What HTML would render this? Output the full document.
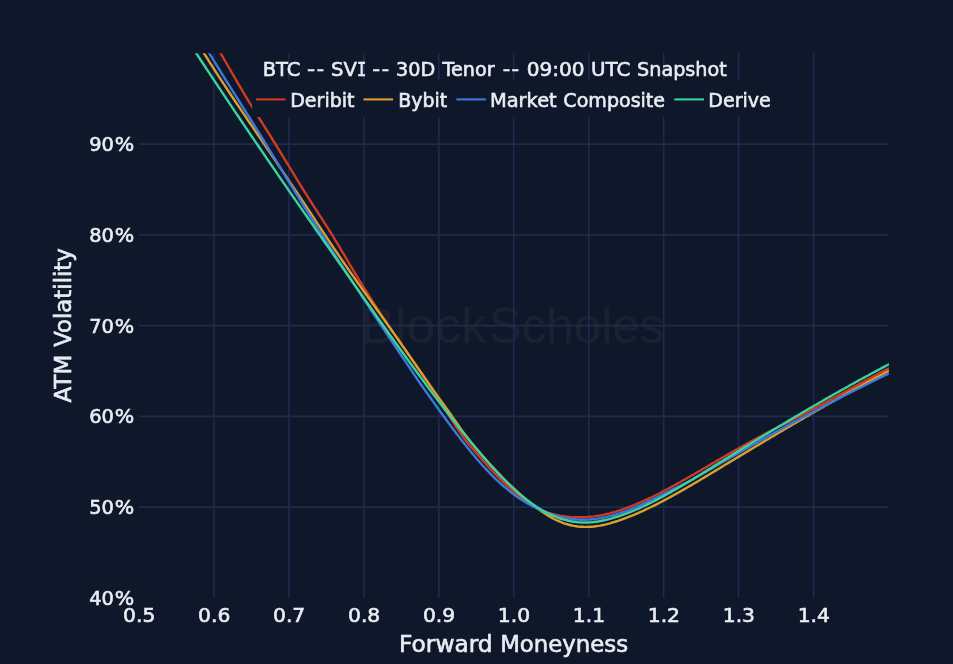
<!DOCTYPE html>
<html lang="en"><head><meta charset="utf-8"><title>BTC -- SVI -- 30D Tenor -- 09:00 UTC Snapshot</title>
<style>
html,body{margin:0;padding:0;background:#0e182a;}
body{width:953px;height:664px;overflow:hidden;}
svg{display:block;filter:blur(0.6px);}
</style></head><body>
<svg width="953" height="664" viewBox="0 0 953 664"><defs><clipPath id="plotclip"><rect x="139.0" y="53.35" width="749.9" height="544.5"/></clipPath></defs><rect width="953" height="664" fill="#0e182a"/><text y="343.4" font-family="'Liberation Sans', sans-serif" font-size="50" fill="#4f4a48" fill-opacity="0.2"><tspan x="360.46" textLength="126.42" lengthAdjust="spacingAndGlyphs">Block</tspan><tspan x="488.63" textLength="175.66" lengthAdjust="spacingAndGlyphs">Scholes</tspan></text><g stroke="#1e2a4e" stroke-width="1.6" fill="none"><line x1="213.95" y1="53.35" x2="213.95" y2="597.85"/><line x1="288.90" y1="53.35" x2="288.90" y2="597.85"/><line x1="363.85" y1="53.35" x2="363.85" y2="597.85"/><line x1="438.80" y1="53.35" x2="438.80" y2="597.85"/><line x1="513.75" y1="53.35" x2="513.75" y2="597.85"/><line x1="588.70" y1="53.35" x2="588.70" y2="597.85"/><line x1="663.65" y1="53.35" x2="663.65" y2="597.85"/><line x1="738.60" y1="53.35" x2="738.60" y2="597.85"/><line x1="813.55" y1="53.35" x2="813.55" y2="597.85"/><line x1="139.0" y1="507.10" x2="888.0" y2="507.10"/><line x1="139.0" y1="416.35" x2="888.0" y2="416.35"/><line x1="139.0" y1="325.60" x2="888.0" y2="325.60"/><line x1="139.0" y1="234.85" x2="888.0" y2="234.85"/><line x1="139.0" y1="144.10" x2="888.0" y2="144.10"/></g><g clip-path="url(#plotclip)" fill="none" stroke-width="2.4" stroke-linejoin="round"><path d="M186.0,-2.6 L188.0,0.4 L190.0,3.4 L192.0,6.5 L194.0,9.5 L196.0,12.6 L198.0,15.7 L200.0,18.9 L202.0,22.1 L204.0,25.3 L206.0,28.5 L208.0,31.8 L210.0,35.1 L212.0,38.4 L214.0,41.8 L216.0,45.2 L218.0,48.7 L220.0,52.1 L222.0,55.6 L224.0,59.1 L226.0,62.5 L228.0,66.0 L230.0,69.5 L232.0,73.0 L234.0,76.4 L236.0,79.9 L238.0,83.3 L240.0,86.7 L242.0,90.1 L244.0,93.5 L246.0,96.9 L248.0,100.2 L250.0,103.5 L252.0,106.7 L254.0,109.9 L256.0,113.1 L258.0,116.3 L260.0,119.5 L262.0,122.7 L264.0,125.8 L266.0,129.0 L268.0,132.2 L270.0,135.3 L272.0,138.5 L274.0,141.8 L276.0,145.0 L278.0,148.3 L280.0,151.5 L282.0,154.8 L284.0,158.1 L286.0,161.4 L288.0,164.7 L290.0,168.0 L292.0,171.2 L294.0,174.5 L296.0,177.8 L298.0,181.1 L300.0,184.3 L302.0,187.6 L304.0,190.8 L306.0,194.0 L308.0,197.2 L310.0,200.3 L312.0,203.5 L314.0,206.6 L316.0,209.7 L318.0,212.8 L320.0,215.9 L322.0,218.9 L324.0,222.1 L326.0,225.2 L328.0,228.3 L330.0,231.5 L332.0,234.7 L334.0,238.0 L336.0,241.3 L338.0,244.6 L340.0,247.9 L342.0,251.3 L344.0,254.7 L346.0,258.1 L348.0,261.5 L350.0,264.8 L352.0,268.2 L354.0,271.5 L356.0,274.8 L358.0,278.1 L360.0,281.4 L362.0,284.6 L364.0,287.8 L366.0,291.0 L368.0,294.2 L370.0,297.3 L372.0,300.4 L374.0,303.6 L376.0,306.6 L378.0,309.7 L380.0,312.8 L382.0,315.8 L384.0,318.8 L386.0,321.8 L388.0,324.8 L390.0,327.7 L392.0,330.7 L394.0,333.6 L396.0,336.5 L398.0,339.4 L400.0,342.3 L402.0,345.1 L404.0,348.0 L406.0,350.9 L408.0,353.7 L410.0,356.6 L412.0,359.4 L414.0,362.3 L416.0,365.1 L418.0,368.0 L420.0,370.9 L422.0,373.7 L424.0,376.7 L426.0,379.6 L428.0,382.5 L430.0,385.5 L432.0,388.5 L434.0,391.6 L436.0,394.7 L438.0,397.8 L440.0,401.0 L442.0,404.2 L444.0,407.4 L446.0,410.7 L448.0,413.9 L450.0,417.1 L452.0,420.3 L454.0,423.4 L456.0,426.5 L458.0,429.5 L460.0,432.4 L462.0,435.3 L464.0,438.0 L466.0,440.7 L468.0,443.3 L470.0,445.7 L472.0,448.1 L474.0,450.5 L476.0,452.8 L478.0,455.1 L480.0,457.3 L482.0,459.6 L484.0,461.8 L486.0,464.0 L488.0,466.2 L490.0,468.4 L492.0,470.5 L494.0,472.6 L496.0,474.7 L498.0,476.8 L500.0,478.8 L502.0,480.8 L504.0,482.8 L506.0,484.7 L508.0,486.6 L510.0,488.4 L512.0,490.2 L514.0,491.9 L516.0,493.6 L518.0,495.3 L520.0,496.9 L522.0,498.4 L524.0,499.9 L526.0,501.3 L528.0,502.6 L530.0,503.9 L532.0,505.2 L534.0,506.3 L536.0,507.4 L538.0,508.4 L540.0,509.4 L542.0,510.3 L544.0,511.1 L546.0,511.9 L548.0,512.6 L550.0,513.2 L552.0,513.8 L554.0,514.4 L556.0,514.8 L558.0,515.3 L560.0,515.7 L562.0,516.0 L564.0,516.3 L566.0,516.6 L568.0,516.8 L570.0,517.0 L572.0,517.1 L574.0,517.2 L576.0,517.2 L578.0,517.3 L580.0,517.3 L582.0,517.2 L584.0,517.2 L586.0,517.1 L588.0,517.0 L590.0,516.8 L592.0,516.6 L594.0,516.4 L596.0,516.1 L598.0,515.8 L600.0,515.5 L602.0,515.1 L604.0,514.7 L606.0,514.2 L608.0,513.8 L610.0,513.3 L612.0,512.7 L614.0,512.2 L616.0,511.6 L618.0,510.9 L620.0,510.3 L622.0,509.6 L624.0,508.9 L626.0,508.2 L628.0,507.4 L630.0,506.7 L632.0,505.9 L634.0,505.1 L636.0,504.2 L638.0,503.4 L640.0,502.5 L642.0,501.6 L644.0,500.7 L646.0,499.8 L648.0,498.9 L650.0,497.9 L652.0,497.0 L654.0,496.0 L656.0,495.0 L658.0,494.0 L660.0,493.0 L662.0,491.9 L664.0,490.9 L666.0,489.8 L668.0,488.8 L670.0,487.7 L672.0,486.6 L674.0,485.5 L676.0,484.4 L678.0,483.3 L680.0,482.2 L682.0,481.0 L684.0,479.9 L686.0,478.8 L688.0,477.6 L690.0,476.5 L692.0,475.3 L694.0,474.2 L696.0,473.0 L698.0,471.8 L700.0,470.7 L702.0,469.5 L704.0,468.3 L706.0,467.2 L708.0,466.0 L710.0,464.8 L712.0,463.6 L714.0,462.5 L716.0,461.3 L718.0,460.1 L720.0,459.0 L722.0,457.8 L724.0,456.7 L726.0,455.5 L728.0,454.4 L730.0,453.2 L732.0,452.1 L734.0,451.0 L736.0,449.8 L738.0,448.7 L740.0,447.6 L742.0,446.5 L744.0,445.3 L746.0,444.2 L748.0,443.1 L750.0,442.0 L752.0,440.9 L754.0,439.9 L756.0,438.8 L758.0,437.7 L760.0,436.6 L762.0,435.6 L764.0,434.5 L766.0,433.4 L768.0,432.4 L770.0,431.4 L772.0,430.3 L774.0,429.3 L776.0,428.3 L778.0,427.2 L780.0,426.2 L782.0,425.2 L784.0,424.2 L786.0,423.1 L788.0,422.1 L790.0,421.1 L792.0,420.1 L794.0,419.0 L796.0,418.0 L798.0,417.0 L800.0,416.0 L802.0,414.9 L804.0,413.9 L806.0,412.9 L808.0,411.8 L810.0,410.8 L812.0,409.7 L814.0,408.6 L816.0,407.6 L818.0,406.5 L820.0,405.4 L822.0,404.4 L824.0,403.3 L826.0,402.2 L828.0,401.1 L830.0,400.0 L832.0,398.9 L834.0,397.8 L836.0,396.7 L838.0,395.6 L840.0,394.5 L842.0,393.5 L844.0,392.4 L846.0,391.3 L848.0,390.2 L850.0,389.1 L852.0,388.0 L854.0,386.9 L856.0,385.8 L858.0,384.7 L860.0,383.6 L862.0,382.5 L864.0,381.5 L866.0,380.4 L868.0,379.3 L870.0,378.2 L872.0,377.2 L874.0,376.1 L876.0,375.0 L878.0,374.0 L880.0,372.9 L882.0,371.9 L884.0,370.8 L886.0,369.8 L888.0,368.8 L890.0,367.7 L892.0,366.7" stroke="#cf3a25"/><path d="M170.0,0.1 L172.0,3.2 L174.0,6.2 L176.0,9.2 L178.0,12.3 L180.0,15.4 L182.0,18.5 L184.0,21.7 L186.0,24.8 L188.0,28.0 L190.0,31.1 L192.0,34.3 L194.0,37.5 L196.0,40.6 L198.0,43.8 L200.0,47.0 L202.0,50.2 L204.0,53.3 L206.0,56.5 L208.0,59.7 L210.0,62.8 L212.0,65.9 L214.0,69.1 L216.0,72.2 L218.0,75.3 L220.0,78.3 L222.0,81.4 L224.0,84.4 L226.0,87.5 L228.0,90.5 L230.0,93.5 L232.0,96.5 L234.0,99.5 L236.0,102.5 L238.0,105.5 L240.0,108.4 L242.0,111.4 L244.0,114.4 L246.0,117.3 L248.0,120.3 L250.0,123.2 L252.0,126.2 L254.0,129.1 L256.0,132.0 L258.0,135.0 L260.0,137.9 L262.0,140.9 L264.0,143.8 L266.0,146.8 L268.0,149.7 L270.0,152.7 L272.0,155.6 L274.0,158.6 L276.0,161.5 L278.0,164.5 L280.0,167.4 L282.0,170.4 L284.0,173.4 L286.0,176.3 L288.0,179.3 L290.0,182.3 L292.0,185.2 L294.0,188.2 L296.0,191.2 L298.0,194.2 L300.0,197.2 L302.0,200.2 L304.0,203.2 L306.0,206.2 L308.0,209.2 L310.0,212.2 L312.0,215.2 L314.0,218.2 L316.0,221.3 L318.0,224.3 L320.0,227.3 L322.0,230.3 L324.0,233.3 L326.0,236.3 L328.0,239.3 L330.0,242.3 L332.0,245.3 L334.0,248.3 L336.0,251.2 L338.0,254.2 L340.0,257.1 L342.0,260.1 L344.0,263.0 L346.0,265.9 L348.0,268.8 L350.0,271.7 L352.0,274.6 L354.0,277.4 L356.0,280.3 L358.0,283.1 L360.0,285.9 L362.0,288.7 L364.0,291.5 L366.0,294.3 L368.0,297.1 L370.0,299.9 L372.0,302.7 L374.0,305.5 L376.0,308.3 L378.0,311.1 L380.0,313.9 L382.0,316.7 L384.0,319.5 L386.0,322.3 L388.0,325.1 L390.0,327.9 L392.0,330.7 L394.0,333.6 L396.0,336.4 L398.0,339.3 L400.0,342.2 L402.0,345.1 L404.0,347.9 L406.0,350.8 L408.0,353.7 L410.0,356.6 L412.0,359.5 L414.0,362.4 L416.0,365.3 L418.0,368.2 L420.0,371.1 L422.0,374.0 L424.0,376.9 L426.0,379.7 L428.0,382.6 L430.0,385.4 L432.0,388.3 L434.0,391.1 L436.0,393.9 L438.0,396.7 L440.0,399.4 L442.0,402.2 L444.0,405.0 L446.0,407.7 L448.0,410.5 L450.0,413.3 L452.0,416.2 L454.0,419.1 L456.0,422.0 L458.0,424.8 L460.0,427.7 L462.0,430.4 L464.0,433.1 L466.0,435.8 L468.0,438.3 L470.0,440.9 L472.0,443.4 L474.0,445.8 L476.0,448.2 L478.0,450.6 L480.0,452.9 L482.0,455.2 L484.0,457.5 L486.0,459.8 L488.0,462.0 L490.0,464.2 L492.0,466.4 L494.0,468.6 L496.0,470.7 L498.0,472.9 L500.0,474.9 L502.0,477.0 L504.0,479.0 L506.0,481.0 L508.0,483.0 L510.0,484.9 L512.0,486.9 L514.0,488.7 L516.0,490.6 L518.0,492.4 L520.0,494.2 L522.0,496.0 L524.0,497.7 L526.0,499.4 L528.0,501.0 L530.0,502.7 L532.0,504.3 L534.0,505.8 L536.0,507.4 L538.0,508.8 L540.0,510.3 L542.0,511.7 L544.0,513.0 L546.0,514.3 L548.0,515.6 L550.0,516.8 L552.0,517.9 L554.0,519.0 L556.0,520.0 L558.0,520.9 L560.0,521.7 L562.0,522.5 L564.0,523.3 L566.0,523.9 L568.0,524.5 L570.0,525.0 L572.0,525.5 L574.0,525.9 L576.0,526.2 L578.0,526.5 L580.0,526.7 L582.0,526.8 L584.0,526.9 L586.0,526.9 L588.0,526.9 L590.0,526.8 L592.0,526.7 L594.0,526.5 L596.0,526.2 L598.0,525.9 L600.0,525.6 L602.0,525.2 L604.0,524.8 L606.0,524.3 L608.0,523.8 L610.0,523.3 L612.0,522.7 L614.0,522.1 L616.0,521.5 L618.0,520.9 L620.0,520.2 L622.0,519.5 L624.0,518.7 L626.0,518.0 L628.0,517.2 L630.0,516.4 L632.0,515.6 L634.0,514.8 L636.0,513.9 L638.0,513.1 L640.0,512.2 L642.0,511.3 L644.0,510.4 L646.0,509.4 L648.0,508.5 L650.0,507.5 L652.0,506.6 L654.0,505.6 L656.0,504.6 L658.0,503.6 L660.0,502.5 L662.0,501.5 L664.0,500.4 L666.0,499.4 L668.0,498.3 L670.0,497.2 L672.0,496.1 L674.0,495.0 L676.0,493.9 L678.0,492.8 L680.0,491.6 L682.0,490.5 L684.0,489.4 L686.0,488.2 L688.0,487.0 L690.0,485.9 L692.0,484.7 L694.0,483.5 L696.0,482.4 L698.0,481.2 L700.0,480.0 L702.0,478.8 L704.0,477.6 L706.0,476.4 L708.0,475.2 L710.0,474.0 L712.0,472.8 L714.0,471.6 L716.0,470.4 L718.0,469.2 L720.0,468.0 L722.0,466.7 L724.0,465.5 L726.0,464.3 L728.0,463.1 L730.0,461.9 L732.0,460.7 L734.0,459.5 L736.0,458.3 L738.0,457.1 L740.0,455.9 L742.0,454.7 L744.0,453.5 L746.0,452.3 L748.0,451.1 L750.0,449.9 L752.0,448.7 L754.0,447.5 L756.0,446.3 L758.0,445.1 L760.0,443.9 L762.0,442.7 L764.0,441.5 L766.0,440.3 L768.0,439.2 L770.0,438.0 L772.0,436.8 L774.0,435.6 L776.0,434.4 L778.0,433.2 L780.0,432.0 L782.0,430.9 L784.0,429.7 L786.0,428.5 L788.0,427.3 L790.0,426.1 L792.0,425.0 L794.0,423.8 L796.0,422.6 L798.0,421.5 L800.0,420.3 L802.0,419.1 L804.0,418.0 L806.0,416.8 L808.0,415.6 L810.0,414.5 L812.0,413.3 L814.0,412.2 L816.0,411.0 L818.0,409.9 L820.0,408.7 L822.0,407.6 L824.0,406.4 L826.0,405.3 L828.0,404.2 L830.0,403.0 L832.0,401.9 L834.0,400.8 L836.0,399.6 L838.0,398.5 L840.0,397.4 L842.0,396.3 L844.0,395.1 L846.0,394.0 L848.0,392.9 L850.0,391.8 L852.0,390.7 L854.0,389.6 L856.0,388.5 L858.0,387.4 L860.0,386.3 L862.0,385.2 L864.0,384.1 L866.0,383.0 L868.0,381.9 L870.0,380.9 L872.0,379.8 L874.0,378.7 L876.0,377.6 L878.0,376.6 L880.0,375.5 L882.0,374.5 L884.0,373.4 L886.0,372.3 L888.0,371.3 L890.0,370.3 L892.0,369.2" stroke="#dc9e2c"/><path d="M174.0,-2.6 L176.0,0.4 L178.0,3.4 L180.0,6.5 L182.0,9.5 L184.0,12.6 L186.0,15.8 L188.0,18.9 L190.0,22.1 L192.0,25.3 L194.0,28.5 L196.0,31.7 L198.0,34.9 L200.0,38.2 L202.0,41.4 L204.0,44.7 L206.0,47.9 L208.0,51.2 L210.0,54.5 L212.0,57.7 L214.0,61.0 L216.0,64.2 L218.0,67.4 L220.0,70.7 L222.0,73.9 L224.0,77.1 L226.0,80.3 L228.0,83.5 L230.0,86.7 L232.0,89.9 L234.0,93.1 L236.0,96.2 L238.0,99.4 L240.0,102.6 L242.0,105.8 L244.0,108.9 L246.0,112.1 L248.0,115.3 L250.0,118.5 L252.0,121.7 L254.0,124.9 L256.0,128.1 L258.0,131.3 L260.0,134.5 L262.0,137.8 L264.0,141.0 L266.0,144.3 L268.0,147.5 L270.0,150.8 L272.0,154.1 L274.0,157.4 L276.0,160.6 L278.0,163.9 L280.0,167.2 L282.0,170.5 L284.0,173.8 L286.0,177.1 L288.0,180.4 L290.0,183.7 L292.0,186.9 L294.0,190.2 L296.0,193.5 L298.0,196.7 L300.0,200.0 L302.0,203.2 L304.0,206.4 L306.0,209.6 L308.0,212.8 L310.0,216.0 L312.0,219.2 L314.0,222.3 L316.0,225.5 L318.0,228.6 L320.0,231.7 L322.0,234.8 L324.0,238.0 L326.0,241.1 L328.0,244.2 L330.0,247.3 L332.0,250.3 L334.0,253.4 L336.0,256.5 L338.0,259.6 L340.0,262.6 L342.0,265.7 L344.0,268.8 L346.0,271.8 L348.0,274.9 L350.0,278.0 L352.0,281.0 L354.0,284.1 L356.0,287.1 L358.0,290.2 L360.0,293.2 L362.0,296.3 L364.0,299.3 L366.0,302.4 L368.0,305.4 L370.0,308.5 L372.0,311.5 L374.0,314.5 L376.0,317.5 L378.0,320.6 L380.0,323.6 L382.0,326.6 L384.0,329.6 L386.0,332.6 L388.0,335.6 L390.0,338.6 L392.0,341.6 L394.0,344.5 L396.0,347.5 L398.0,350.5 L400.0,353.5 L402.0,356.5 L404.0,359.4 L406.0,362.4 L408.0,365.4 L410.0,368.4 L412.0,371.4 L414.0,374.4 L416.0,377.3 L418.0,380.3 L420.0,383.2 L422.0,386.0 L424.0,388.9 L426.0,391.7 L428.0,394.5 L430.0,397.3 L432.0,400.1 L434.0,402.9 L436.0,405.7 L438.0,408.5 L440.0,411.2 L442.0,414.0 L444.0,416.8 L446.0,419.5 L448.0,422.2 L450.0,424.9 L452.0,427.6 L454.0,430.3 L456.0,433.0 L458.0,435.6 L460.0,438.2 L462.0,440.8 L464.0,443.3 L466.0,445.8 L468.0,448.3 L470.0,450.8 L472.0,453.2 L474.0,455.6 L476.0,458.0 L478.0,460.3 L480.0,462.5 L482.0,464.8 L484.0,467.0 L486.0,469.1 L488.0,471.2 L490.0,473.3 L492.0,475.3 L494.0,477.3 L496.0,479.3 L498.0,481.1 L500.0,483.0 L502.0,484.8 L504.0,486.5 L506.0,488.2 L508.0,489.9 L510.0,491.5 L512.0,493.0 L514.0,494.5 L516.0,496.0 L518.0,497.4 L520.0,498.7 L522.0,500.0 L524.0,501.3 L526.0,502.5 L528.0,503.7 L530.0,504.8 L532.0,505.9 L534.0,506.9 L536.0,507.9 L538.0,508.9 L540.0,509.8 L542.0,510.7 L544.0,511.6 L546.0,512.4 L548.0,513.2 L550.0,513.9 L552.0,514.6 L554.0,515.2 L556.0,515.8 L558.0,516.4 L560.0,516.9 L562.0,517.4 L564.0,517.8 L566.0,518.2 L568.0,518.5 L570.0,518.9 L572.0,519.1 L574.0,519.3 L576.0,519.5 L578.0,519.6 L580.0,519.7 L582.0,519.8 L584.0,519.8 L586.0,519.7 L588.0,519.6 L590.0,519.5 L592.0,519.3 L594.0,519.1 L596.0,518.9 L598.0,518.6 L600.0,518.3 L602.0,517.9 L604.0,517.5 L606.0,517.1 L608.0,516.6 L610.0,516.1 L612.0,515.6 L614.0,515.0 L616.0,514.5 L618.0,513.8 L620.0,513.2 L622.0,512.5 L624.0,511.8 L626.0,511.1 L628.0,510.3 L630.0,509.5 L632.0,508.7 L634.0,507.9 L636.0,507.1 L638.0,506.2 L640.0,505.3 L642.0,504.4 L644.0,503.5 L646.0,502.6 L648.0,501.6 L650.0,500.7 L652.0,499.7 L654.0,498.7 L656.0,497.8 L658.0,496.8 L660.0,495.8 L662.0,494.8 L664.0,493.8 L666.0,492.8 L668.0,491.8 L670.0,490.8 L672.0,489.8 L674.0,488.8 L676.0,487.8 L678.0,486.8 L680.0,485.8 L682.0,484.8 L684.0,483.8 L686.0,482.8 L688.0,481.8 L690.0,480.7 L692.0,479.7 L694.0,478.6 L696.0,477.5 L698.0,476.4 L700.0,475.3 L702.0,474.2 L704.0,473.0 L706.0,471.9 L708.0,470.7 L710.0,469.5 L712.0,468.4 L714.0,467.2 L716.0,466.0 L718.0,464.9 L720.0,463.7 L722.0,462.5 L724.0,461.4 L726.0,460.2 L728.0,459.1 L730.0,457.9 L732.0,456.7 L734.0,455.6 L736.0,454.4 L738.0,453.3 L740.0,452.2 L742.0,451.0 L744.0,449.9 L746.0,448.7 L748.0,447.6 L750.0,446.5 L752.0,445.3 L754.0,444.2 L756.0,443.1 L758.0,442.0 L760.0,440.8 L762.0,439.7 L764.0,438.6 L766.0,437.5 L768.0,436.4 L770.0,435.3 L772.0,434.2 L774.0,433.1 L776.0,432.0 L778.0,430.9 L780.0,429.8 L782.0,428.7 L784.0,427.6 L786.0,426.5 L788.0,425.4 L790.0,424.3 L792.0,423.2 L794.0,422.1 L796.0,421.1 L798.0,420.0 L800.0,418.9 L802.0,417.8 L804.0,416.8 L806.0,415.7 L808.0,414.6 L810.0,413.6 L812.0,412.5 L814.0,411.4 L816.0,410.4 L818.0,409.3 L820.0,408.3 L822.0,407.2 L824.0,406.2 L826.0,405.1 L828.0,404.1 L830.0,403.0 L832.0,402.0 L834.0,401.0 L836.0,399.9 L838.0,398.9 L840.0,397.9 L842.0,396.8 L844.0,395.8 L846.0,394.8 L848.0,393.8 L850.0,392.8 L852.0,391.7 L854.0,390.7 L856.0,389.7 L858.0,388.7 L860.0,387.7 L862.0,386.7 L864.0,385.7 L866.0,384.7 L868.0,383.7 L870.0,382.7 L872.0,381.7 L874.0,380.7 L876.0,379.7 L878.0,378.8 L880.0,377.8 L882.0,376.8 L884.0,375.8 L886.0,374.8 L888.0,373.9 L890.0,372.9 L892.0,371.9" stroke="#3b7ada"/><path d="M170.0,12.8 L172.0,15.9 L174.0,19.0 L176.0,22.1 L178.0,25.2 L180.0,28.3 L182.0,31.4 L184.0,34.5 L186.0,37.5 L188.0,40.6 L190.0,43.7 L192.0,46.7 L194.0,49.8 L196.0,52.9 L198.0,55.9 L200.0,59.0 L202.0,62.0 L204.0,65.0 L206.0,68.1 L208.0,71.1 L210.0,74.1 L212.0,77.1 L214.0,80.1 L216.0,83.2 L218.0,86.2 L220.0,89.2 L222.0,92.2 L224.0,95.2 L226.0,98.2 L228.0,101.1 L230.0,104.1 L232.0,107.1 L234.0,110.1 L236.0,113.1 L238.0,116.0 L240.0,119.0 L242.0,122.0 L244.0,124.9 L246.0,127.9 L248.0,130.8 L250.0,133.8 L252.0,136.7 L254.0,139.7 L256.0,142.6 L258.0,145.5 L260.0,148.5 L262.0,151.4 L264.0,154.3 L266.0,157.3 L268.0,160.2 L270.0,163.1 L272.0,166.0 L274.0,168.9 L276.0,171.8 L278.0,174.8 L280.0,177.7 L282.0,180.6 L284.0,183.5 L286.0,186.4 L288.0,189.3 L290.0,192.2 L292.0,195.1 L294.0,198.0 L296.0,200.9 L298.0,203.7 L300.0,206.6 L302.0,209.5 L304.0,212.4 L306.0,215.3 L308.0,218.2 L310.0,221.0 L312.0,223.9 L314.0,226.8 L316.0,229.7 L318.0,232.5 L320.0,235.4 L322.0,238.3 L324.0,241.2 L326.0,244.0 L328.0,246.9 L330.0,249.8 L332.0,252.6 L334.0,255.5 L336.0,258.3 L338.0,261.2 L340.0,264.1 L342.0,266.9 L344.0,269.8 L346.0,272.6 L348.0,275.5 L350.0,278.4 L352.0,281.2 L354.0,284.1 L356.0,286.9 L358.0,289.8 L360.0,292.6 L362.0,295.5 L364.0,298.3 L366.0,301.2 L368.0,304.0 L370.0,306.8 L372.0,309.7 L374.0,312.5 L376.0,315.3 L378.0,318.2 L380.0,321.0 L382.0,323.8 L384.0,326.6 L386.0,329.4 L388.0,332.2 L390.0,335.1 L392.0,337.8 L394.0,340.6 L396.0,343.4 L398.0,346.2 L400.0,349.0 L402.0,351.8 L404.0,354.5 L406.0,357.3 L408.0,360.0 L410.0,362.8 L412.0,365.5 L414.0,368.3 L416.0,371.0 L418.0,373.7 L420.0,376.4 L422.0,379.1 L424.0,381.8 L426.0,384.5 L428.0,387.2 L430.0,389.9 L432.0,392.6 L434.0,395.2 L436.0,397.9 L438.0,400.5 L440.0,403.1 L442.0,405.8 L444.0,408.4 L446.0,411.0 L448.0,413.6 L450.0,416.2 L452.0,418.7 L454.0,421.3 L456.0,423.8 L458.0,426.4 L460.0,428.9 L462.0,431.4 L464.0,433.9 L466.0,436.3 L468.0,438.8 L470.0,441.2 L472.0,443.6 L474.0,446.0 L476.0,448.4 L478.0,450.8 L480.0,453.1 L482.0,455.4 L484.0,457.7 L486.0,460.0 L488.0,462.3 L490.0,464.5 L492.0,466.7 L494.0,468.9 L496.0,471.0 L498.0,473.2 L500.0,475.3 L502.0,477.3 L504.0,479.4 L506.0,481.4 L508.0,483.3 L510.0,485.3 L512.0,487.2 L514.0,489.0 L516.0,490.8 L518.0,492.6 L520.0,494.3 L522.0,496.0 L524.0,497.7 L526.0,499.2 L528.0,500.8 L530.0,502.3 L532.0,503.7 L534.0,505.1 L536.0,506.5 L538.0,507.8 L540.0,509.0 L542.0,510.2 L544.0,511.3 L546.0,512.4 L548.0,513.4 L550.0,514.4 L552.0,515.3 L554.0,516.2 L556.0,517.0 L558.0,517.8 L560.0,518.5 L562.0,519.1 L564.0,519.7 L566.0,520.2 L568.0,520.7 L570.0,521.1 L572.0,521.5 L574.0,521.8 L576.0,522.1 L578.0,522.3 L580.0,522.4 L582.0,522.5 L584.0,522.6 L586.0,522.5 L588.0,522.5 L590.0,522.4 L592.0,522.2 L594.0,522.0 L596.0,521.7 L598.0,521.5 L600.0,521.1 L602.0,520.7 L604.0,520.3 L606.0,519.9 L608.0,519.4 L610.0,518.9 L612.0,518.3 L614.0,517.7 L616.0,517.1 L618.0,516.5 L620.0,515.8 L622.0,515.1 L624.0,514.4 L626.0,513.7 L628.0,512.9 L630.0,512.1 L632.0,511.3 L634.0,510.5 L636.0,509.6 L638.0,508.8 L640.0,507.9 L642.0,507.0 L644.0,506.0 L646.0,505.1 L648.0,504.1 L650.0,503.2 L652.0,502.2 L654.0,501.2 L656.0,500.1 L658.0,499.1 L660.0,498.0 L662.0,497.0 L664.0,495.9 L666.0,494.8 L668.0,493.7 L670.0,492.6 L672.0,491.4 L674.0,490.3 L676.0,489.2 L678.0,488.0 L680.0,486.8 L682.0,485.7 L684.0,484.5 L686.0,483.3 L688.0,482.1 L690.0,480.9 L692.0,479.7 L694.0,478.4 L696.0,477.2 L698.0,476.0 L700.0,474.8 L702.0,473.5 L704.0,472.3 L706.0,471.1 L708.0,469.8 L710.0,468.6 L712.0,467.4 L714.0,466.1 L716.0,464.9 L718.0,463.6 L720.0,462.4 L722.0,461.2 L724.0,459.9 L726.0,458.7 L728.0,457.5 L730.0,456.2 L732.0,455.0 L734.0,453.8 L736.0,452.5 L738.0,451.3 L740.0,450.1 L742.0,448.9 L744.0,447.6 L746.0,446.4 L748.0,445.2 L750.0,444.0 L752.0,442.8 L754.0,441.5 L756.0,440.3 L758.0,439.1 L760.0,437.9 L762.0,436.7 L764.0,435.5 L766.0,434.3 L768.0,433.1 L770.0,431.9 L772.0,430.6 L774.0,429.4 L776.0,428.2 L778.0,427.0 L780.0,425.8 L782.0,424.7 L784.0,423.5 L786.0,422.3 L788.0,421.1 L790.0,419.9 L792.0,418.7 L794.0,417.5 L796.0,416.3 L798.0,415.2 L800.0,414.0 L802.0,412.8 L804.0,411.6 L806.0,410.5 L808.0,409.3 L810.0,408.1 L812.0,407.0 L814.0,405.8 L816.0,404.7 L818.0,403.5 L820.0,402.3 L822.0,401.2 L824.0,400.0 L826.0,398.9 L828.0,397.8 L830.0,396.6 L832.0,395.5 L834.0,394.3 L836.0,393.2 L838.0,392.1 L840.0,390.9 L842.0,389.8 L844.0,388.7 L846.0,387.6 L848.0,386.5 L850.0,385.3 L852.0,384.2 L854.0,383.1 L856.0,382.0 L858.0,380.9 L860.0,379.8 L862.0,378.7 L864.0,377.6 L866.0,376.5 L868.0,375.5 L870.0,374.4 L872.0,373.3 L874.0,372.2 L876.0,371.1 L878.0,370.1 L880.0,369.0 L882.0,367.9 L884.0,366.9 L886.0,365.8 L888.0,364.8 L890.0,363.7 L892.0,362.7" stroke="#3cd29e"/></g><rect x="252.2" y="79.6" width="523" height="37.4" fill="#0e182a"/><line x1="256.0" y1="99.4" x2="285.6" y2="99.4" stroke="#cf3a25" stroke-width="2.1"/><line x1="363.5" y1="99.4" x2="393.1" y2="99.4" stroke="#dc9e2c" stroke-width="2.1"/><line x1="456.4" y1="99.4" x2="486.0" y2="99.4" stroke="#3b7ada" stroke-width="2.1"/><line x1="674.3" y1="99.4" x2="703.9" y2="99.4" stroke="#3cd29e" stroke-width="2.1"/><g font-family="'DejaVu Sans', 'Liberation Sans', sans-serif" fill="#eaecf4" stroke="#eaecf4" stroke-width="0.6"><text y="76.1" font-size="19.7"><tspan x="262.65" textLength="37.69" lengthAdjust="spacingAndGlyphs">BTC</tspan> <tspan x="307.00" textLength="8.12" lengthAdjust="spacingAndGlyphs">-</tspan><tspan x="316.69" textLength="7.35" lengthAdjust="spacingAndGlyphs">-</tspan> <tspan x="331.02" textLength="25.86" lengthAdjust="spacingAndGlyphs">SV</tspan><tspan x="356.91" font-family="'DejaVu Sans Mono', 'Liberation Mono', monospace" textLength="9.32" lengthAdjust="spacingAndGlyphs">I</tspan> <tspan x="372.33" textLength="7.86" lengthAdjust="spacingAndGlyphs">-</tspan><tspan x="381.79" textLength="7.35" lengthAdjust="spacingAndGlyphs">-</tspan> <tspan x="396.06" textLength="39.20" lengthAdjust="spacingAndGlyphs">30D</tspan> <tspan x="442.59" textLength="52.14" lengthAdjust="spacingAndGlyphs">Tenor</tspan> <tspan x="502.67" textLength="7.47" lengthAdjust="spacingAndGlyphs">-</tspan><tspan x="511.56" textLength="7.60" lengthAdjust="spacingAndGlyphs">-</tspan> <tspan x="526.69" textLength="57.94" lengthAdjust="spacingAndGlyphs">09:00</tspan> <tspan x="591.01" textLength="39.35" lengthAdjust="spacingAndGlyphs">UTC</tspan> <tspan x="637.05" textLength="89.67" lengthAdjust="spacingAndGlyphs">Snapshot</tspan></text><text y="107.3" font-size="19.7"><tspan x="290.19" textLength="64.33" lengthAdjust="spacingAndGlyphs">Deribit</tspan></text><text y="107.3" font-size="19.7"><tspan x="398.20" textLength="48.92" lengthAdjust="spacingAndGlyphs">Bybit</tspan></text><text y="107.3" font-size="19.7"><tspan x="489.95" textLength="66.78" lengthAdjust="spacingAndGlyphs">Market</tspan> <tspan x="563.35" textLength="101.72" lengthAdjust="spacingAndGlyphs">Composite</tspan></text><text y="107.3" font-size="19.7"><tspan x="708.28" textLength="62.58" lengthAdjust="spacingAndGlyphs">Derive</tspan></text><text y="604.80" font-size="19.7"><tspan x="89.20" textLength="24.69" lengthAdjust="spacingAndGlyphs">40</tspan><tspan x="114.68" textLength="19.45" lengthAdjust="spacingAndGlyphs">%</tspan></text><text y="514.05" font-size="19.7"><tspan x="89.20" textLength="24.69" lengthAdjust="spacingAndGlyphs">50</tspan><tspan x="114.68" textLength="19.45" lengthAdjust="spacingAndGlyphs">%</tspan></text><text y="423.30" font-size="19.7"><tspan x="89.20" textLength="24.69" lengthAdjust="spacingAndGlyphs">60</tspan><tspan x="114.68" textLength="19.45" lengthAdjust="spacingAndGlyphs">%</tspan></text><text y="332.55" font-size="19.7"><tspan x="89.20" textLength="24.69" lengthAdjust="spacingAndGlyphs">70</tspan><tspan x="114.68" textLength="19.45" lengthAdjust="spacingAndGlyphs">%</tspan></text><text y="241.80" font-size="19.7"><tspan x="89.20" textLength="24.69" lengthAdjust="spacingAndGlyphs">80</tspan><tspan x="114.68" textLength="19.45" lengthAdjust="spacingAndGlyphs">%</tspan></text><text y="151.05" font-size="19.7"><tspan x="89.20" textLength="24.69" lengthAdjust="spacingAndGlyphs">90</tspan><tspan x="114.68" textLength="19.45" lengthAdjust="spacingAndGlyphs">%</tspan></text><text y="622.3" font-size="19.7"><tspan x="123.12" textLength="32.27" lengthAdjust="spacingAndGlyphs">0.5</tspan></text><text y="622.3" font-size="19.7"><tspan x="198.07" textLength="32.27" lengthAdjust="spacingAndGlyphs">0.6</tspan></text><text y="622.3" font-size="19.7"><tspan x="273.02" textLength="32.27" lengthAdjust="spacingAndGlyphs">0.7</tspan></text><text y="622.3" font-size="19.7"><tspan x="347.97" textLength="32.27" lengthAdjust="spacingAndGlyphs">0.8</tspan></text><text y="622.3" font-size="19.7"><tspan x="422.92" textLength="32.27" lengthAdjust="spacingAndGlyphs">0.9</tspan></text><text y="622.3" font-size="19.7"><tspan x="497.87" textLength="32.27" lengthAdjust="spacingAndGlyphs">1.0</tspan></text><text y="622.3" font-size="19.7"><tspan x="572.82" textLength="32.27" lengthAdjust="spacingAndGlyphs">1.1</tspan></text><text y="622.3" font-size="19.7"><tspan x="647.77" textLength="32.27" lengthAdjust="spacingAndGlyphs">1.2</tspan></text><text y="622.3" font-size="19.7"><tspan x="722.72" textLength="32.27" lengthAdjust="spacingAndGlyphs">1.3</tspan></text><text y="622.3" font-size="19.7"><tspan x="797.67" textLength="32.27" lengthAdjust="spacingAndGlyphs">1.4</tspan></text><text y="651.5" font-size="22.6"><tspan x="399.00" textLength="93.67" lengthAdjust="spacingAndGlyphs">Forward</tspan> <tspan x="500.15" textLength="127.99" lengthAdjust="spacingAndGlyphs">Moneyness</tspan></text><text transform="translate(70.7,403) rotate(-90)" y="0" font-size="22.6"><tspan x="0.40" textLength="47.83" lengthAdjust="spacingAndGlyphs">ATM</tspan> <tspan x="56.20" textLength="98.60" lengthAdjust="spacingAndGlyphs">Volatility</tspan></text></g></svg>
</body></html>
